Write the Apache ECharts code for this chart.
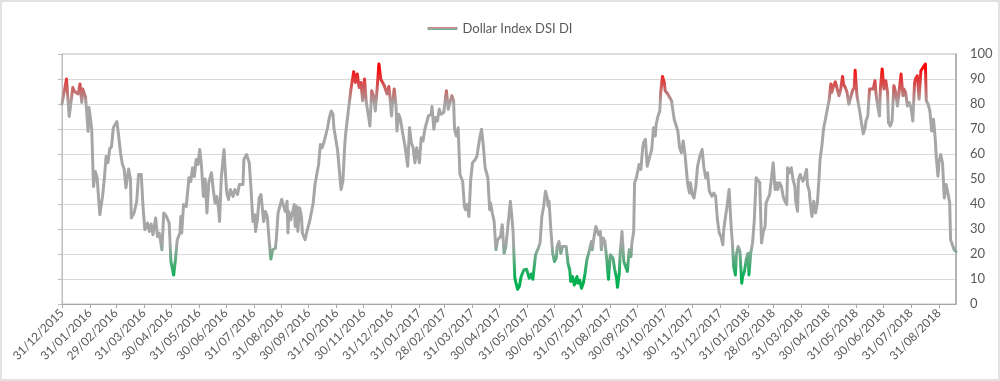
<!DOCTYPE html>
<html>
<head>
<meta charset="utf-8">
<script src="https://cdn.jsdelivr.net/npm/echarts@6/dist/echarts.min.js"></script>
<style>html,body{margin:0;padding:0;background:#fff;}#chart{width:1000px;height:381px;}</style>
</head>
<body>
<div id="chart"></div>
<script>
const seriesName = 'Dollar Index DSI DI';
const axisStart = '2015-12-31';
const axisEnd = '2018-09-19';
const yTicks = [0, 10, 20, 30, 40, 50, 60, 70, 80, 90, 100];

const dates2016 = ['2015-12-31','2016-01-05','2016-01-08','2016-01-12','2016-01-14','2016-01-16','2016-01-18','2016-01-20','2016-01-22','2016-01-23','2016-01-26','2016-01-27','2016-01-29','2016-01-30',
'2016-02-01','2016-02-02','2016-02-04','2016-02-06','2016-02-08','2016-02-11','2016-02-14','2016-02-16','2016-02-18','2016-02-20','2016-02-22','2016-02-24','2016-02-26',
'2016-03-01','2016-03-03','2016-03-05','2016-03-07','2016-03-09','2016-03-11','2016-03-14','2016-03-16','2016-03-17','2016-03-20','2016-03-23','2016-03-25','2016-03-28','2016-03-30',
'2016-04-01','2016-04-04','2016-04-06','2016-04-08','2016-04-10','2016-04-13','2016-04-15','2016-04-17','2016-04-20','2016-04-22','2016-04-25','2016-04-28','2016-04-30',
'2016-05-03','2016-05-05','2016-05-07','2016-05-10','2016-05-11','2016-05-12','2016-05-14','2016-05-17','2016-05-20','2016-05-22','2016-05-24','2016-05-26','2016-05-28','2016-05-30',
'2016-06-01','2016-06-03','2016-06-05','2016-06-07','2016-06-09','2016-06-11','2016-06-14','2016-06-16','2016-06-18','2016-06-20','2016-06-22','2016-06-23','2016-06-25','2016-06-28','2016-06-29',
'2016-07-01','2016-07-03','2016-07-05','2016-07-08','2016-07-10','2016-07-13','2016-07-15','2016-07-19','2016-07-20','2016-07-23','2016-07-26','2016-07-28','2016-07-30',
'2016-08-01','2016-08-02','2016-08-04','2016-08-06','2016-08-08','2016-08-11','2016-08-13','2016-08-15','2016-08-17','2016-08-19','2016-08-21','2016-08-24','2016-08-25','2016-08-27','2016-08-29','2016-08-31',
'2016-09-02','2016-09-04','2016-09-06','2016-09-07','2016-09-08','2016-09-10','2016-09-12','2016-09-14','2016-09-15','2016-09-17','2016-09-18','2016-09-20','2016-09-22','2016-09-23','2016-09-26','2016-09-28',
'2016-10-01','2016-10-03','2016-10-05','2016-10-07','2016-10-09','2016-10-11','2016-10-13','2016-10-15','2016-10-17','2016-10-19','2016-10-21','2016-10-23','2016-10-25','2016-10-27','2016-10-28','2016-10-30',
'2016-11-01','2016-11-03','2016-11-05','2016-11-07','2016-11-09','2016-11-10','2016-11-13','2016-11-16','2016-11-19','2016-11-21','2016-11-23','2016-11-25','2016-11-27','2016-11-29',
'2016-12-01','2016-12-03','2016-12-06','2016-12-07','2016-12-09','2016-12-11','2016-12-13','2016-12-15','2016-12-17','2016-12-19','2016-12-21','2016-12-23','2016-12-26','2016-12-28','2016-12-29','2016-12-31'];
const values2016 = [80,90,75,86.6,85,84.6,84,88,80.6,86,83,79,69,78.6,
73,70,47,53,50.5,35.7,43,50,59,56.5,62,63,70.5,
73,67,60.5,56,54,46.5,54,50,34.4,36.4,41,51.8,51.8,39,
29.7,32.4,29,32,27.7,34.4,27,28.4,21.7,36.4,35,32.4,17,
11.6,17.7,25.7,28.4,35,28.4,39.8,39,50.5,49,54.5,51,57.8,55.8,
61.8,55,43,50,36.4,48.5,52.5,45.8,40.4,43,37.7,33,51,61.8,55,
44.4,41.8,45.8,43,45.8,43.8,47.8,47.8,57.8,59.8,56.5,45.8,33,
35.7,29,33.7,42.4,43.8,33,37,35,25.7,18,21.7,22.3,25.7,36.4,37,41.8,
41.1,37,41.1,28.4,37,33.7,36.4,39.8,31,39,29,38.4,35,28.4,25.7,29,
33,32.4,40.4,47.8,47.1,55.8,63.8,62.5,64.8,64.5,70.5,74.6,77.2,75.9,70.5,69.9,
61.8,53.8,45.8,49.1,63.2,67.9,77.2,86,92.9,88.6,92,86.6,88.6,81.3,
90,80.6,73.9,71.2,85.3,83.3,77.2,86,96,90,89.3,87.3,84,87,84,75.2];

const dates2017 = ['2017-01-01','2017-01-03','2017-01-05','2017-01-06','2017-01-08','2017-01-10','2017-01-12','2017-01-15','2017-01-17','2017-01-18','2017-01-20','2017-01-22','2017-01-24','2017-01-26','2017-01-28','2017-01-30','2017-01-31',
'2017-02-02','2017-02-04','2017-02-06','2017-02-08','2017-02-10','2017-02-13','2017-02-14','2017-02-16','2017-02-18','2017-02-20','2017-02-22','2017-02-24','2017-02-27','2017-02-28',
'2017-03-02','2017-03-04','2017-03-06','2017-03-08','2017-03-10','2017-03-11','2017-03-13','2017-03-15','2017-03-17','2017-03-20','2017-03-22','2017-03-23','2017-03-25','2017-03-27','2017-03-29','2017-03-31',
'2017-04-03','2017-04-05','2017-04-06','2017-04-08','2017-04-10','2017-04-12','2017-04-14','2017-04-17','2017-04-19','2017-04-20','2017-04-22','2017-04-24','2017-04-26','2017-04-28',
'2017-05-01','2017-05-03','2017-05-05','2017-05-07','2017-05-10','2017-05-12','2017-05-14','2017-05-15','2017-05-17','2017-05-20','2017-05-22','2017-05-24','2017-05-25','2017-05-27','2017-05-30',
'2017-06-01','2017-06-02','2017-06-04','2017-06-06','2017-06-07','2017-06-09','2017-06-12','2017-06-14','2017-06-16','2017-06-18','2017-06-20','2017-06-22','2017-06-23','2017-06-24','2017-06-26','2017-06-28','2017-06-30',
'2017-07-02','2017-07-03','2017-07-05','2017-07-07','2017-07-09','2017-07-11','2017-07-13','2017-07-15','2017-07-17','2017-07-18','2017-07-20','2017-07-22','2017-07-25','2017-07-26','2017-07-28','2017-07-30',
'2017-08-01','2017-08-03','2017-08-05','2017-08-07','2017-08-10','2017-08-11','2017-08-13','2017-08-15','2017-08-18','2017-08-20','2017-08-21','2017-08-23','2017-08-25','2017-08-27','2017-08-29','2017-08-31',
'2017-09-01','2017-09-03','2017-09-05','2017-09-07','2017-09-08','2017-09-10','2017-09-11','2017-09-13','2017-09-15','2017-09-17','2017-09-19','2017-09-21','2017-09-23','2017-09-24','2017-09-26','2017-09-27','2017-09-29','2017-09-30',
'2017-10-02','2017-10-04','2017-10-06','2017-10-07','2017-10-09','2017-10-11','2017-10-14','2017-10-16','2017-10-18','2017-10-20','2017-10-21','2017-10-23','2017-10-25','2017-10-26','2017-10-28','2017-10-30','2017-10-31',
'2017-11-03','2017-11-05','2017-11-07','2017-11-09','2017-11-10','2017-11-12','2017-11-14','2017-11-16','2017-11-18','2017-11-20','2017-11-22','2017-11-23','2017-11-25','2017-11-27','2017-11-28','2017-11-30',
'2017-12-02','2017-12-04','2017-12-06','2017-12-08','2017-12-09','2017-12-11','2017-12-13','2017-12-15','2017-12-17','2017-12-19','2017-12-22','2017-12-24','2017-12-26','2017-12-28','2017-12-30'];
const values2017 = [80,86,79.2,69.2,75.9,73.9,69.2,63.2,62.5,55.1,70.5,64.5,62.5,56.5,62.5,63.2,56.5,
66.5,65.2,69.9,69.9,75.2,75.9,79,69.9,74.6,73.2,77.9,75.9,76.6,77.2,
85.3,77.9,78.6,83.3,81.3,69.9,67.2,70.5,51.8,49.1,39.1,37.7,39.8,35,49.8,56.5,
57.8,59.2,61.8,66.5,69.9,63.2,54.5,50.5,37.7,40.4,36.4,33,21.7,25.7,
27,31.7,20.3,23,33.7,41.1,33.7,29,10.3,5.9,7,11,11.6,13.6,13.9,
13.4,10.3,12,9.9,10.3,19.7,22.3,24.4,35,39.1,45.1,42.4,39.1,41.1,29.7,20.3,17,
18.3,23,25,20.3,23,23.3,23,16.3,13.6,9,11,7.6,11,8.3,9.6,6.3,
8.3,12.3,17.7,20.3,25,21.7,27,31,27.7,29,21.7,26.4,25,18.3,9.9,19.7,
19.7,18.3,13.6,10.3,6.7,12.3,20.3,29,17,17.7,13,21.7,19,24.4,29,48.5,50.5,49.8,
55.8,53.8,62.5,64.5,65.9,55.1,59.2,61.8,70.5,67.2,71.9,75.2,77.2,84.6,91,88.6,85.3,
83.9,82.6,81.3,80.6,73.9,74.6,69.2,62.5,60.5,65.2,59.8,55.8,47.8,44.4,48.5,43.8,
42.4,47.1,55.1,58.5,59.2,61.8,54.5,50.5,52.5,45.1,43.1,44.4,43.1,33.7,28.4];

const dates2018 = ['2018-01-01','2018-01-03','2018-01-04','2018-01-06','2018-01-08','2018-01-10','2018-01-12','2018-01-14','2018-01-15','2018-01-17','2018-01-18','2018-01-20','2018-01-22','2018-01-24','2018-01-25','2018-01-27','2018-01-29','2018-01-31',
'2018-02-01','2018-02-03','2018-02-05','2018-02-07','2018-02-09','2018-02-11','2018-02-13','2018-02-15','2018-02-17','2018-02-19','2018-02-20','2018-02-22','2018-02-24','2018-02-26','2018-02-28',
'2018-03-02','2018-03-04','2018-03-05','2018-03-07','2018-03-09','2018-03-11','2018-03-13','2018-03-15','2018-03-16','2018-03-18','2018-03-20','2018-03-22','2018-03-24','2018-03-25','2018-03-27','2018-03-28','2018-03-30','2018-03-31',
'2018-04-02','2018-04-04','2018-04-06','2018-04-07','2018-04-09','2018-04-10','2018-04-12','2018-04-14','2018-04-16','2018-04-18','2018-04-20','2018-04-21','2018-04-23','2018-04-25','2018-04-27','2018-04-29',
'2018-05-01','2018-05-03','2018-05-04','2018-05-06','2018-05-08','2018-05-10','2018-05-12','2018-05-14','2018-05-16','2018-05-17','2018-05-19','2018-05-21','2018-05-23','2018-05-25','2018-05-27','2018-05-29','2018-05-30',
'2018-06-01','2018-06-03','2018-06-04','2018-06-06','2018-06-08','2018-06-10','2018-06-11','2018-06-13','2018-06-15','2018-06-17','2018-06-19','2018-06-21','2018-06-22','2018-06-24','2018-06-26','2018-06-27','2018-06-29',
'2018-07-01','2018-07-03','2018-07-05','2018-07-06','2018-07-08','2018-07-10','2018-07-12','2018-07-14','2018-07-16','2018-07-18','2018-07-20','2018-07-22','2018-07-23','2018-07-25','2018-07-27','2018-07-29','2018-07-31',
'2018-08-02','2018-08-04','2018-08-05','2018-08-07','2018-08-09','2018-08-11','2018-08-13','2018-08-16','2018-08-17','2018-08-19','2018-08-21','2018-08-23','2018-08-25','2018-08-27','2018-08-28','2018-08-30','2018-08-31',
'2018-09-02','2018-09-04','2018-09-06','2018-09-08','2018-09-10','2018-09-12','2018-09-13','2018-09-15','2018-09-17','2018-09-19'];
const values2018 = [27,23.7,29.7,35,39.8,45.8,32.4,22.3,15,11.6,19.7,23,21,8.3,11,13,17.7,20.3,
11.6,20.3,24.4,33.7,50.5,50.5,48.5,24.4,29,31,40.4,41.1,43.8,44.4,56.5,
45.8,48.5,45.8,48.5,47.1,43.1,41.1,39.8,54.5,52.5,54.5,49.8,47.1,41.1,37.1,49.8,51.8,50.5,
49.1,51.1,53.8,47.8,45.1,41.1,35,41.1,36.4,40.4,51.1,57.8,63.2,70.5,73.9,77.9,
81.3,88,84.6,87.3,88.9,86,83.3,86,91,88,86.6,84.6,79.9,79.9,85.3,86.6,93.5,
83.3,79.2,77.2,72.5,68.1,70.5,73.2,75.2,86,85.3,86,89.3,84.6,79.2,75.2,86,94,
86,89.3,84.6,72.5,71.2,73.2,87.3,84.6,79.2,79.9,92,83.3,86,84.6,79.2,80.6,78.6,
73.2,88.6,90,91.3,81.9,93.3,94,96,81.3,79.9,77.2,69.2,73.9,65.9,59.2,51.1,56.5,
59.8,56.5,42.4,47.8,44.4,40.4,25.7,25,21.7,21];

// ---- build daily category axis and place readings on it ----
function pad(n){return n<10?'0'+n:''+n;}
function isoOf(d){return d.getUTCFullYear()+'-'+pad(d.getUTCMonth()+1)+'-'+pad(d.getUTCDate());}
const categories = [];
for (let d = new Date(axisStart+'T00:00:00Z'); isoOf(d) <= axisEnd; d.setUTCDate(d.getUTCDate()+1)) {
  categories.push(isoOf(d));
}
const monthEnds = new Set(categories.filter(function(c){
  const d = new Date(c+'T00:00:00Z'); const n = new Date(d.getTime()+86400000);
  return n.getUTCMonth() !== d.getUTCMonth();
}));
const allDates = dates2016.concat(dates2017, dates2018);
const allValues = values2016.concat(values2017, values2018);
const lookup = {};
allDates.forEach(function(d,i){ lookup[d] = allValues[i]; });
const seriesData = categories.map(function(c){ return (c in lookup) ? lookup[c] : null; });
function fmtLabel(c){ const p = c.split('-'); return p[2]+'/'+p[1]+'/'+p[0]; }

const gridTop = 54, gridBottom = 77, chartH = 381;
const lineGradient = {
  type:'linear', x:0, y:gridTop, x2:0, y2:chartH-gridBottom, global:true,
  colorStops:[
    {offset:0, color:'#ff0000'},
    {offset:0.05, color:'#ff0000'},
    {offset:0.20, color:'#a6a6a6'},
    {offset:0.76, color:'#a6a6a6'},
    {offset:0.90, color:'#00b050'},
    {offset:1, color:'#00b050'}
  ]
};
const legendGradient = {
  type:'linear', x:0, y:0, x2:0, y2:1,
  colorStops:[{offset:0,color:'#d87878'},{offset:0.5,color:'#a6a6a6'},{offset:1,color:'#60b080'}]
};

const chart = echarts.init(document.getElementById('chart'), null, {renderer:'canvas'});
const font = 'Lato, "Liberation Sans", sans-serif';
chart.setOption({
  animation:false,
  backgroundColor:'#ffffff',
  graphic:[{type:'rect', shape:{x:1, y:1, width:998, height:379}, style:{fill:null, stroke:'#d9d9d9', lineWidth:1.5}, silent:true}],
  legend:{
    top:17, left:'center', itemWidth:30, itemHeight:3, itemGap:10,
    icon:'rect',
    textStyle:{color:'#595959', fontSize:13, fontFamily:font},
    data:[{name:seriesName, icon:'rect', itemStyle:{color:legendGradient, borderWidth:0}}]
  },
  grid:{left:62, right:44, top:gridTop, bottom:gridBottom, show:true, borderColor:'#bfbfbf', borderWidth:1, containLabel:false, outerBoundsMode:'none'},
  xAxis:{
    type:'category', data:categories, boundaryGap:false,
    axisLine:{show:true, lineStyle:{color:'#a6a6a6', width:1}},
    axisTick:{show:true, length:4, lineStyle:{color:'#a6a6a6'}, interval:function(i,v){return monthEnds.has(v);}},
    axisLabel:{rotate:45, margin:7, color:'#595959', fontSize:12, fontFamily:font,
      interval:function(i,v){return monthEnds.has(v);}, formatter:fmtLabel},
    splitLine:{show:false}
  },
  yAxis:[{
    type:'value', position:'right', min:0, max:100, interval:10,
    axisLine:{show:true, lineStyle:{color:'#a6a6a6', width:1.5}},
    axisTick:{show:false},
    axisLabel:{margin:14, color:'#595959', fontSize:13, fontFamily:font,
      formatter:function(v){return yTicks.indexOf(v)>=0 ? String(v) : '';}},
    splitLine:{show:true, lineStyle:{color:'#d9d9d9', width:1}}
  },{
    type:'value', position:'left', min:0, max:100, interval:10,
    axisLine:{show:true, lineStyle:{color:'#bfbfbf', width:1}},
    axisTick:{show:true, length:4, inside:false, lineStyle:{color:'#bfbfbf'}},
    axisLabel:{show:false}, splitLine:{show:false}
  }],
  series:[{
    name:seriesName, type:'line', data:seriesData, connectNulls:true,
    symbol:'none', showSymbol:false, smooth:false,
    lineStyle:{width:3, color:lineGradient, join:'round', cap:'round'},
    itemStyle:{color:'#a6a6a6'}
  }]
});
</script>
</body>
</html>
